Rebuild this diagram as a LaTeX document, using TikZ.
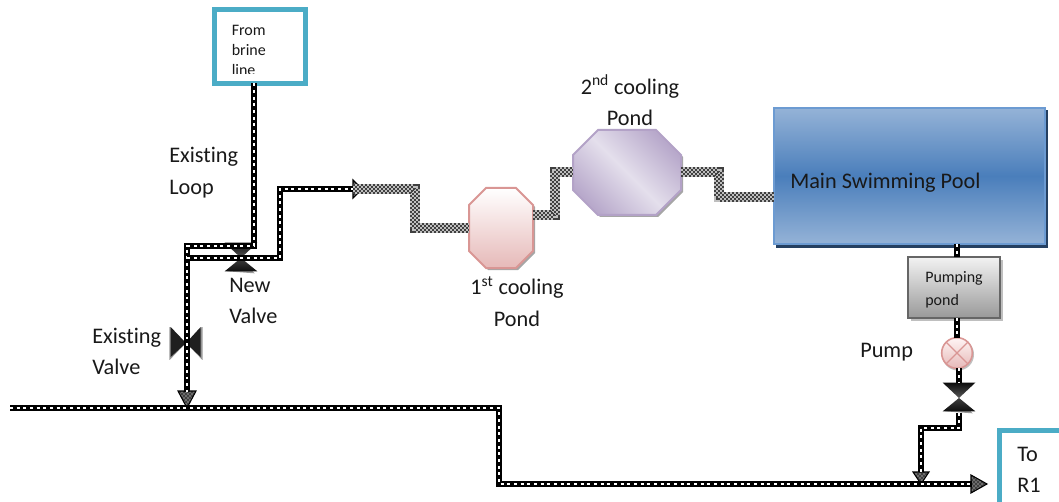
\documentclass[tikz,border=0pt]{standalone}
\usepackage{fontspec}
\setmainfont[Ligatures=NoCommon]{Carlito}
\usetikzlibrary{shadows,patterns,calc}
\definecolor{teal}{HTML}{4BACC6}
\definecolor{pooltop}{HTML}{95B3D7}
\definecolor{poolmid}{HTML}{4A7EBB}
\definecolor{poolline}{HTML}{6C9BD2}
\definecolor{poolshadow}{HTML}{254061}
\definecolor{pinkline}{HTML}{D99694}
\definecolor{pinkfill}{HTML}{E6B9B8}
\definecolor{lilacline}{HTML}{B3A2C7}
\definecolor{lilacdark}{HTML}{B8A9CB}
\definecolor{lilaclight}{HTML}{E4DFEC}
\newcommand{\octagon}[3]{%
  \path[#3] ($(#1.north west)+(#2,0)$) -- ($(#1.north east)+(-#2,0)$) -- ($(#1.north east)+(0,#2)$)
    -- ($(#1.south east)+(0,-#2)$) -- ($(#1.south east)+(-#2,0)$) -- ($(#1.south west)+(#2,0)$)
    -- ($(#1.south west)+(0,-#2)$) -- ($(#1.north west)+(0,#2)$) -- cycle;}
\tikzset{
  x=0.75pt,y=-0.75pt,
  pipe/.style={line width=5.2pt,black,line join=miter,
    postaction={draw,white,line width=1.5pt,dash pattern=on 2.2pt off 2.8pt}},
  graypipe/.style={line width=7.2pt,black!25,line join=miter,
    postaction={draw,black!75,line width=7.2pt,dash pattern=on 1.5pt off 1.5pt},
    postaction={draw,black!25,line width=4.4pt},
    postaction={draw,black!75,line width=4.4pt,dash pattern=on 1.5pt off 1.5pt,dash phase=1.5pt},
    postaction={draw,black!25,line width=1.5pt},
    postaction={draw,black!75,line width=1.5pt,dash pattern=on 1.5pt off 1.5pt}},
  lab/.style={inner sep=0pt,font=\fontsize{16.7}{23.6}\selectfont,align=left,text=black!90},
  labc/.style={lab,align=center},
  small/.style={inner sep=0pt,font=\fontsize{12}{15}\selectfont,align=left,text=black!90},
  tealbox/.style={draw=teal,line width=3.75pt,fill=white,inner sep=0pt,outer sep=0pt},
  anchorbox/.style={inner sep=0pt,outer sep=0pt},
  pondshadow/.style={copy shadow={shadow xshift=1.5pt,shadow yshift=-1.5pt,fill=black!35,draw=none}},
  tipdraw/.style={draw=black,line width=0.8pt,
    preaction={fill=black!75},pattern=crosshatch dots,pattern color=white},
  hourglass/.style={inner sep=0pt,outer sep=0pt,minimum width=24.5pt,minimum height=23pt,
    path picture={
      \fill[black!40] ([yshift=-1.5pt]path picture bounding box.center)--([yshift=1.5pt,xshift=2pt]path picture bounding box.south west)--([yshift=0pt,xshift=-2pt]path picture bounding box.south east)--cycle;
      \shade[top color=black!95,bottom color=black!65]
        (path picture bounding box.north west)--(path picture bounding box.north east)--(path picture bounding box.center)--cycle;
      \shade[top color=black!75,bottom color=black!95]
        ([yshift=1.5pt]path picture bounding box.south west)--([yshift=1.5pt]path picture bounding box.south east)--(path picture bounding box.center)--cycle;
    }},
  bowtie/.style={inner sep=0pt,outer sep=0pt,minimum width=25pt,minimum height=24pt,
    path picture={
      \fill[black!40] ([xshift=-1.5pt,yshift=-1.5pt]path picture bounding box.center)--([yshift=-1pt]path picture bounding box.south west)--([yshift=1pt]path picture bounding box.north west)--cycle;
      \fill[black!40] ([xshift=1.5pt,yshift=-1.5pt]path picture bounding box.center)--([yshift=-1pt]path picture bounding box.south east)--([yshift=1pt]path picture bounding box.north east)--cycle;
      \fill[black!88]
        ([xshift=1pt,yshift=1.5pt]path picture bounding box.south west)--([xshift=1pt]path picture bounding box.north west)--(path picture bounding box.center)--cycle;
      \fill[black!88]
        ([xshift=-1.5pt,yshift=1.5pt]path picture bounding box.south east)--([xshift=-1.5pt]path picture bounding box.north east)--(path picture bounding box.center)--cycle;
    }},
}
\begin{document}
\begin{tikzpicture}
\useasboundingbox (0,0) rectangle (1059,502);

% boxes
\node[tealbox,minimum width=68.25pt,minimum height=55.5pt] (brine) at (260,46.5) {};
\begin{scope}
  \clip (215,12) rectangle (304,73.5);
  \node[small,anchor=north west] (brinetext) at (231.5,24.5) {From\\brine\\line};
\end{scope}
\node[tealbox,anchor=north west,minimum width=80pt,minimum height=60pt] (rone) at (999.5,430.5) {};
\node[lab,anchor=west] (ronetext) at (1017,470) {To\\R1};

% ponds
\node[anchorbox,minimum width=48pt,minimum height=60pt] (pone) at (501,228) {};
\octagon{pone}{17}{draw=pinkline,line width=1.5pt,top color=white,bottom color=pinkfill,pondshadow}
\node[anchorbox,minimum width=81pt,minimum height=63.75pt] (ptwo) at (627,172.5) {};
\octagon{ptwo}{25}{draw=lilacline,line width=1.5pt,left color=lilacdark,right color=lilacdark,middle color=lilaclight,shading angle=135,pondshadow}

% pool
\fill[poolshadow] (776,110) rectangle (1048,248);
\node[draw=poolline,line width=1.5pt,inner sep=0pt,outer sep=0pt,minimum width=203.6pt,minimum height=102.4pt,
  top color=pooltop,bottom color=pooltop,middle color=poolmid] (pool) at (909.5,176) {};
\node[lab,anchor=west] (pooltext) at (790,183) {Main Swimming Pool};

% pumping pond
\fill[black!25] (911,260) rectangle (1003,321);
\node[draw=black!60,line width=1.5pt,inner sep=0pt,outer sep=0pt,minimum width=69pt,minimum height=45.75pt,
  top color=black!5,bottom color=black!40] (ppond) at (954,287.5) {};
\node[small,anchor=west,font=\fontsize{12}{17}\selectfont] (ppondtext) at (925,289.5) {Pumping\\pond};

% pump
\fill[black!25] (958,354.5) circle (16);
\node[circle,draw=pinkline,line width=1.2pt,inner sep=0pt,outer sep=0pt,minimum size=23pt,
  top color=red!4,bottom color=pinkfill] (pump) at (957,353) {};
\draw[pinkline,line width=1pt] (pump.north west)--(pump.south east) (pump.north east)--(pump.south west);

% valves
\node[hourglass] (nv) at (241,258) {};
\node[bowtie] (ev) at (186,343) {};
\node[hourglass] (pv) at (959,398) {};

% labels
\node[lab,anchor=west] (l1) at (169,172.5) {Existing\\Loop};
\node[lab,anchor=west] (l2) at (92,351.5) {Existing\\Valve};
\node[lab,anchor=west] (l3) at (229,301) {New\\Valve};
\node[labc] (l4) at (630,100.5) {2\textsuperscript{nd} cooling\\Pond};
\node[labc] (l5) at (517,301.5) {1\textsuperscript{st} cooling\\Pond};
\node[lab,anchor=west] (l6) at (860,352.5) {Pump};

% bends
\coordinate (a1) at (254,246);
\coordinate (a2) at (187,246);
\coordinate (a3) at (187,392);
\coordinate (b0) at (187,258);
\coordinate (b1) at (280,258);
\coordinate (b2) at (280,189);
\coordinate (b3) at (353,189);
\coordinate (c1) at (415,189);
\coordinate (c2) at (415,228);
\coordinate (d1) at (555,215);
\coordinate (d2) at (555,172);
\coordinate (e1) at (719,172);
\coordinate (e2) at (719,197);
\coordinate (f1) at (959,428);
\coordinate (f2) at (921,428);
\coordinate (f3) at (921,472);
\coordinate (g0) at (10,408);
\coordinate (g1) at (499,408);
\coordinate (g2) at (499,484);
\coordinate (g3) at (972,484);
\coordinate (pp) at (957,250);

% arrowheads
\draw[tipdraw] (353,180)--(362,189)--(353,198)--cycle;
\draw[tipdraw] (178,391)--(187,408)--(196,391)--cycle;
\draw[tipdraw] (913,472)--(921,484)--(929,472)--cycle;
\draw[tipdraw] (971,475)--(987,484)--(971,493)--cycle;

% connectors
\draw[pipe] (brine.south -| a1) -- (a1) -- (a2) -- (ev.center -| a2) -- (a3);
\draw[pipe] (b0) -- (nv.center |- b0) -- (b1) -- (b2) -- (b3);
\draw[pipe] (g0) -- (g1) -- (g2) -- (g3);
\draw[pipe] (pool.south -| pp) -- (ppond.north -| pp);
\draw[pipe] (ppond.south -| pp) -- (pump.north);
\draw[pipe] (pump.south -| pv) -- (pv.north);
\draw[pipe] (pv.south) -- (f1) -- (f2) -- (f3);
\draw[graypipe] (b3) -- (c1) -- (c2) -- (pone.west |- c2);
\draw[graypipe] (pone.east |- d1) -- (d1) -- (d2) -- (ptwo.west |- d2);
\draw[graypipe] (ptwo.east |- e1) -- (e1) -- (e2) -- (pool.west |- e2);
\end{tikzpicture}
\end{document}
